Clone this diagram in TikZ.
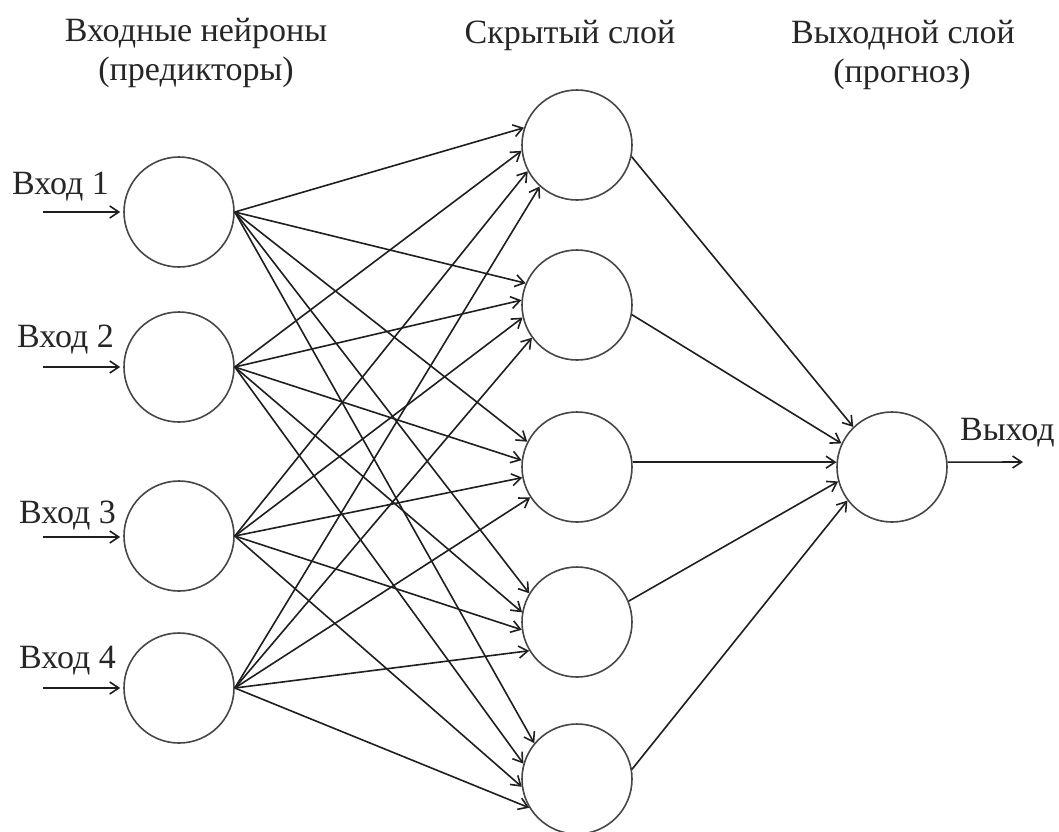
\documentclass[tikz,border=0pt]{standalone}
\usepackage{fontspec}
\setmainfont{Liberation Serif}
\usetikzlibrary{arrows.meta}
\begin{document}
\begin{tikzpicture}[x=1pt,y=-1pt,
  neuron/.style={circle,draw=black!72,line width=1.6pt,minimum size=110pt,inner sep=0pt},
  conn/.style={draw=black!88,line width=1.6pt,-{Straight Barb[length=9pt,width=12pt,line width=1.6pt]}},
  lbl/.style={font=\fontsize{34}{40}\selectfont,inner sep=0pt,text=black!85}]
\useasboundingbox[fill=white] (0,0) rectangle (1059,831);
% headers
\node[lbl,anchor=base] (t1) at (196,41) {Входные нейроны};
\node[lbl,anchor=base] (t1b) at (196,80) {(предикторы)};
\node[lbl,anchor=base] (t2) at (570,43) {Скрытый слой};
\node[lbl,anchor=base] (t3) at (903,43) {Выходной слой};
\node[lbl,anchor=base] (t3b) at (902,82) {(прогноз)};
% neurons
\node[neuron] (i1) at (179,212) {};
\node[neuron] (i2) at (179,367) {};
\node[neuron] (i3) at (179,536) {};
\node[neuron] (i4) at (179,688) {};
\node[neuron] (h1) at (577,145) {};
\node[neuron] (h2) at (577,305) {};
\node[neuron] (h3) at (577,467) {};
\node[neuron] (h4) at (577,622) {};
\node[neuron] (h5) at (577,779) {};
\node[neuron] (o) at (892,467) {};
% input labels and arrows
\node[lbl,anchor=base west] (l1) at (12,194) {Вход 1};
\node[lbl,anchor=base west] (l2) at (17,347) {Вход 2};
\node[lbl,anchor=base west] (l3) at (19,523) {Вход 3};
\node[lbl,anchor=base west] (l4) at (19,668) {Вход 4};
\coordinate (a1) at (43,212);
\coordinate (a2) at (43,367);
\coordinate (a3) at (43,537);
\coordinate (a4) at (43,688);
\foreach \k in {1,2,3,4} \draw[conn,shorten >=3pt] (a\k) -- (a\k -| i\k.west);
% input -> hidden
\foreach \j/\a/\b/\c/\d in {1/162/186/208/228, 2/157/175/193/216, 3/153/173/191/213, 4/149/170/188/211, 5/140/164/188/211} {
  \draw[conn] (i1.east) -- (h\j.\a);
  \draw[conn] (i2.east) -- (h\j.\b);
  \draw[conn] (i3.east) -- (h\j.\c);
  \draw[conn] (i4.east) -- (h\j.\d);
}
% hidden -> output
\foreach \j/\s/\e in {1/348/134, 2/350/155, 3/5/175, 4/22/195, 5/10/217}
  \draw[conn] (h\j.\s) -- (o.\e);
% output
\node[lbl,anchor=base west] (lo) at (960,440) {Выход};
\coordinate (oe) at (1023,462);
\draw[conn] (o.5) -- (oe);
\end{tikzpicture}
\end{document}
